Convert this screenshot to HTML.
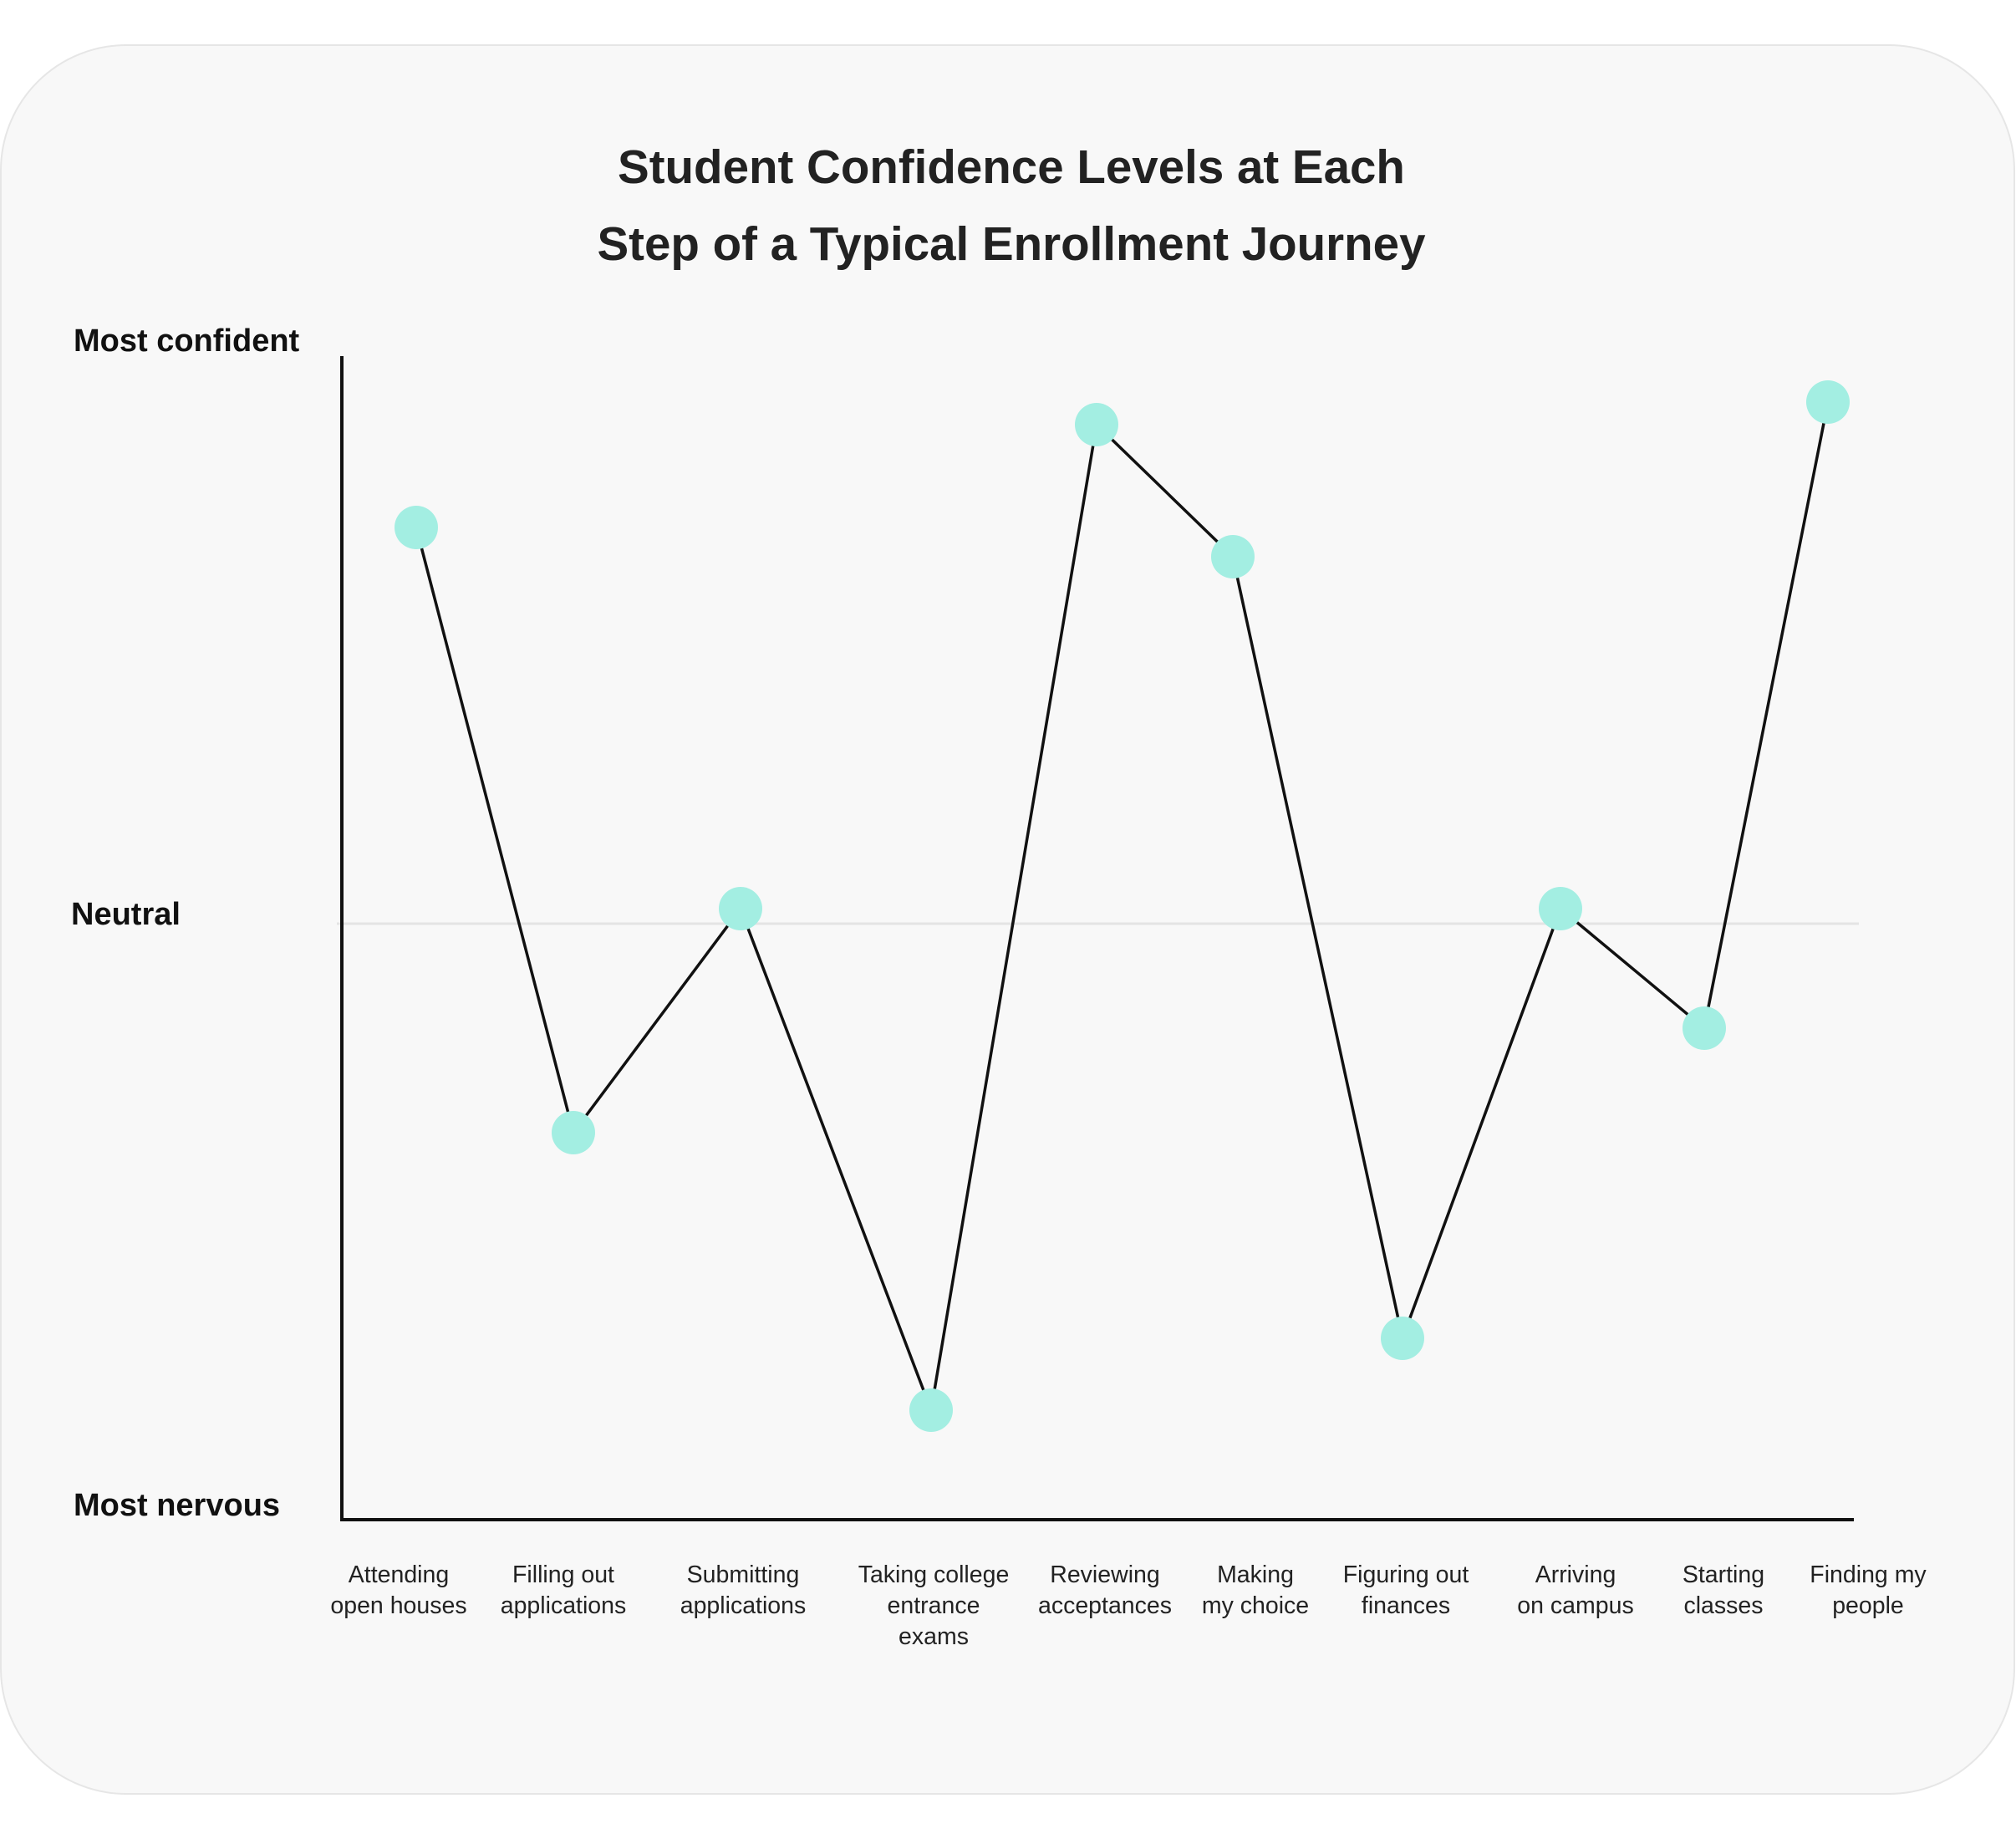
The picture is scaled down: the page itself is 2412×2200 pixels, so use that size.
<!DOCTYPE html>
<html><head><meta charset="utf-8"><style>
html,body{margin:0;padding:0;background:#fff;}
svg{display:block;}
text{font-family:"Liberation Sans",sans-serif;}
</style></head><body>
<svg width="2412" height="2200" viewBox="0 0 2412 2200" xmlns="http://www.w3.org/2000/svg">
<rect x="1" y="54" width="2409" height="2092" rx="150" ry="150" fill="#f8f8f8" stroke="#e6e6e6" stroke-width="2"/>
<text x="1210" y="219" text-anchor="middle" font-size="56.5" font-weight="bold" fill="#222">Student Confidence Levels at Each</text>
<text x="1210" y="311" text-anchor="middle" font-size="56.5" font-weight="bold" fill="#222">Step of a Typical Enrollment Journey</text>
<text x="88" y="420" font-size="38" font-weight="bold" fill="#111">Most confident</text>
<text x="85" y="1106" font-size="38" font-weight="bold" fill="#111">Neutral</text>
<text x="88" y="1813" font-size="38" font-weight="bold" fill="#111">Most nervous</text>
<line x1="403" y1="1105" x2="2224" y2="1105" stroke="#e4e4e4" stroke-width="3"/>
<polyline points="409,426 409,1818 2218,1818" fill="none" stroke="#111" stroke-width="4"/>
<polyline points="498,631 686,1355 886,1087 1114,1687 1312,508 1475,666 1678,1601 1867,1087 2039,1230 2187,481" fill="none" stroke="#111" stroke-width="3.5"/>
<g fill="#a3eee2">
<circle cx="498" cy="631" r="26"/><circle cx="686" cy="1355" r="26"/><circle cx="886" cy="1087" r="26"/><circle cx="1114" cy="1687" r="26"/><circle cx="1312" cy="508" r="26"/><circle cx="1475" cy="666" r="26"/><circle cx="1678" cy="1601" r="26"/><circle cx="1867" cy="1087" r="26"/><circle cx="2039" cy="1230" r="26"/><circle cx="2187" cy="481" r="26"/>
</g>
<g font-size="28.5" fill="#222" text-anchor="middle">
<text x="477" y="1893">Attending</text><text x="477" y="1930">open houses</text>
<text x="674" y="1893">Filling out</text><text x="674" y="1930">applications</text>
<text x="889" y="1893">Submitting</text><text x="889" y="1930">applications</text>
<text x="1117" y="1893">Taking college</text><text x="1117" y="1930">entrance</text><text x="1117" y="1967">exams</text>
<text x="1322" y="1893">Reviewing</text><text x="1322" y="1930">acceptances</text>
<text x="1502" y="1893">Making</text><text x="1502" y="1930">my choice</text>
<text x="1682" y="1893">Figuring out</text><text x="1682" y="1930">finances</text>
<text x="1885" y="1893">Arriving</text><text x="1885" y="1930">on campus</text>
<text x="2062" y="1893">Starting</text><text x="2062" y="1930">classes</text>
<text x="2235" y="1893">Finding my</text><text x="2235" y="1930">people</text>
</g>
</svg>
</body></html>
